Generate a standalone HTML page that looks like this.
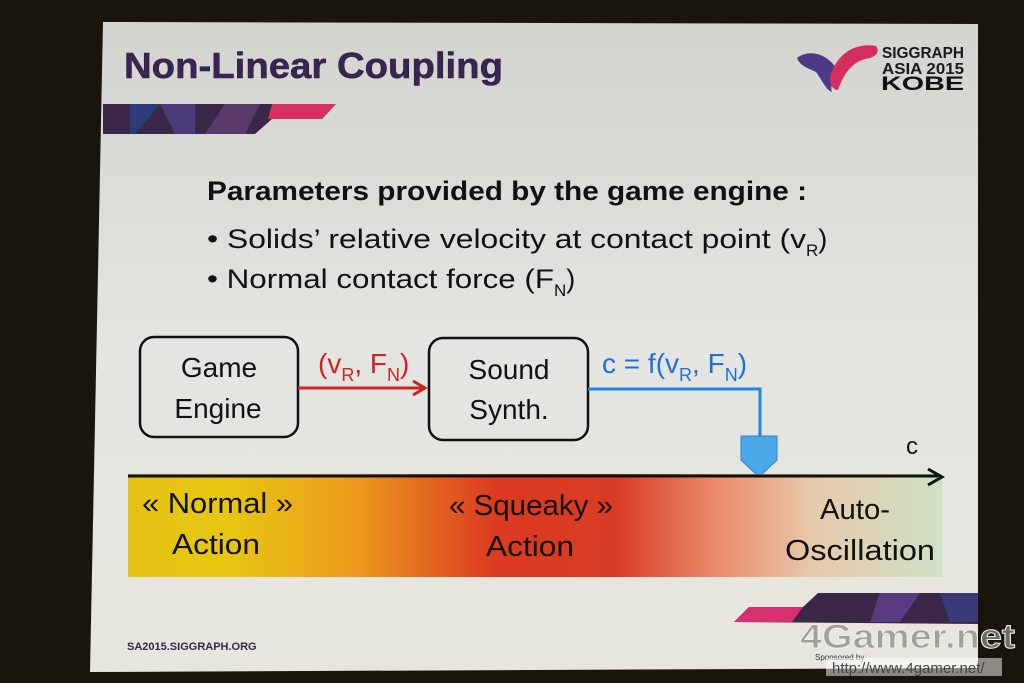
<!DOCTYPE html>
<html><head><meta charset="utf-8"><style>
html,body{margin:0;padding:0;width:1024px;height:683px;overflow:hidden;background:#1d180e}
</style></head><body>
<svg width="1024" height="683" viewBox="0 0 1024 683" xmlns="http://www.w3.org/2000/svg" font-family="Liberation Sans, sans-serif">
<defs>
<linearGradient id="bg" x1="0" y1="0" x2="0" y2="1">
<stop offset="0" stop-color="#d3d3cf"/><stop offset="0.5" stop-color="#e4e5e0"/><stop offset="1" stop-color="#e6e6de"/>
</linearGradient>
<linearGradient id="bar" x1="0" y1="0" x2="1" y2="0">
<stop offset="0" stop-color="#e3c214"/><stop offset="0.12" stop-color="#e8c712"/><stop offset="0.28" stop-color="#ec9a1e"/><stop offset="0.45" stop-color="#dc3a20"/><stop offset="0.6" stop-color="#d83b24"/><stop offset="0.72" stop-color="#ea8a6a"/><stop offset="0.84" stop-color="#e8c8aa"/><stop offset="1" stop-color="#cfe2c6"/>
</linearGradient>
</defs>
<rect width="1024" height="683" fill="#1a150c"/>
<polygon points="103,22 978,24 978,668 90,672" fill="url(#bg)"/>
<text x="124" y="78" font-size="36" font-weight="bold" fill="#3a2552" stroke="#2a1a3e" stroke-width="0.5" textLength="379" lengthAdjust="spacingAndGlyphs">Non-Linear Coupling</text>
<polygon points="103,104 336,104 322,119 272,119 255,134 103,134" fill="#3b2848"/>
<polygon points="130,104 160,104 135,134 130,134" fill="#2c3c7a"/>
<polygon points="160,104 195,104 195,134 175,134" fill="#4a3a7a"/>
<polygon points="225,104 260,104 245,134 205,134" fill="#5a3a6a"/>
<polygon points="272,104 336,104 322,119 268,119" fill="#d83060"/>
<path d="M797,58 C810,48 828,55 836,68 C833,78 830,88 832,92 C826,90 822,80 816,72 C808,68 800,66 797,58 Z" fill="#4a3a8a"/>
<path d="M830,78 C835,55 855,42 876,46 C880,52 876,56 870,58 C855,60 845,70 838,90 C833,90 830,85 830,78 Z" fill="#d42e5e"/>
<text x="882" y="58" font-size="16" font-weight="bold" fill="#1a1a1a" textLength="82" lengthAdjust="spacingAndGlyphs">SIGGRAPH</text>
<text x="882" y="74" font-size="16" font-weight="bold" fill="#1a1a1a" textLength="82" lengthAdjust="spacingAndGlyphs">ASIA 2015</text>
<text x="881" y="90" font-size="19" font-weight="bold" fill="#111" textLength="83" lengthAdjust="spacingAndGlyphs">KOBE</text>
<text x="207" y="200" font-size="27" font-weight="bold" fill="#111" textLength="600" lengthAdjust="spacingAndGlyphs">Parameters provided by the game engine :</text>
<text x="207" y="248" font-size="27" fill="#111"><tspan textLength="599" lengthAdjust="spacingAndGlyphs">• Solids’ relative velocity at contact point (v</tspan><tspan font-size="17" dy="8">R</tspan><tspan dy="-8">)</tspan></text>
<text x="207" y="288" font-size="27" fill="#111"><tspan textLength="347" lengthAdjust="spacingAndGlyphs">• Normal contact force (F</tspan><tspan font-size="17" dy="8">N</tspan><tspan dy="-8">)</tspan></text>
<rect x="140" y="337" width="158" height="100" rx="14" fill="none" stroke="#111" stroke-width="2.5"/>
<text x="219" y="377" font-size="28" text-anchor="middle" fill="#111">Game</text>
<text x="218" y="418" font-size="28" text-anchor="middle" fill="#111">Engine</text>
<rect x="429" y="338" width="159" height="102" rx="14" fill="none" stroke="#111" stroke-width="2.5"/>
<text x="509" y="379" font-size="28" text-anchor="middle" fill="#111">Sound</text>
<text x="509" y="419" font-size="28" text-anchor="middle" fill="#111">Synth.</text>
<line x1="298" y1="388" x2="424" y2="388" stroke="#d02222" stroke-width="3"/>
<polyline points="413,381 425,388 413,395" fill="none" stroke="#d02222" stroke-width="3"/>
<text x="318" y="373" font-size="28" fill="#d02222">(v<tspan font-size="18" dy="8">R</tspan><tspan dy="-8">, F</tspan><tspan font-size="18" dy="8">N</tspan><tspan dy="-8">)</tspan></text>
<text x="602" y="373" font-size="28" fill="#1e6fd8">c = f(v<tspan font-size="18" dy="8">R</tspan><tspan dy="-8">, F</tspan><tspan font-size="18" dy="8">N</tspan><tspan dy="-8">)</tspan></text>
<polyline points="588,389 760,389 760,437" fill="none" stroke="#1e88e0" stroke-width="3"/>
<polygon points="741,436 777,436 777,460 759,477 741,460" fill="#4aa8e8" stroke="#2a88c8" stroke-width="1"/>
<rect x="128" y="474" width="814" height="103" fill="url(#bar)"/>
<line x1="128" y1="476" x2="938" y2="476" stroke="#111" stroke-width="3"/>
<polyline points="928,469 942,477 928,485" fill="none" stroke="#111" stroke-width="3"/>
<text x="906" y="454" font-size="24" fill="#111">c</text>
<text x="142" y="513" font-size="29" fill="#111" textLength="151" lengthAdjust="spacingAndGlyphs">« Normal »</text>
<text x="172" y="554" font-size="29" fill="#111" textLength="88" lengthAdjust="spacingAndGlyphs">Action</text>
<text x="449" y="515" font-size="29" fill="#111" textLength="164" lengthAdjust="spacingAndGlyphs">« Squeaky »</text>
<text x="486" y="556" font-size="29" fill="#111" textLength="88" lengthAdjust="spacingAndGlyphs">Action</text>
<text x="820" y="519" font-size="29" fill="#111" textLength="70" lengthAdjust="spacingAndGlyphs">Auto-</text>
<text x="785" y="560" font-size="29" fill="#111" textLength="150" lengthAdjust="spacingAndGlyphs">Oscillation</text>
<polygon points="734,622 749,607 803,607 818,593 978,593 978,624" fill="#3b2848"/>
<polygon points="734,622 749,607 803,607 792,622" fill="#d83070"/>
<polygon points="880,593 920,593 900,622 870,622" fill="#5a3a80"/>
<polygon points="940,593 978,593 978,622 950,622" fill="#3a3a78"/>
<text x="127" y="650" font-size="11" font-weight="bold" fill="#3a2552">SA2015.SIGGRAPH.ORG</text>
<text x="800" y="648" font-size="34" font-weight="bold" fill="#8a8a86" fill-opacity="0.75" stroke="#eee" stroke-width="1" textLength="215" lengthAdjust="spacingAndGlyphs">4Gamer.net</text>
<text x="815" y="660" font-size="8" fill="#333">Sponsored by</text>
<rect x="826" y="658" width="176" height="18" fill="#fff" fill-opacity="0.5"/>
<text x="832" y="673" font-size="15" fill="#444">http://www.4gamer.net/</text>
</svg>
</body></html>
